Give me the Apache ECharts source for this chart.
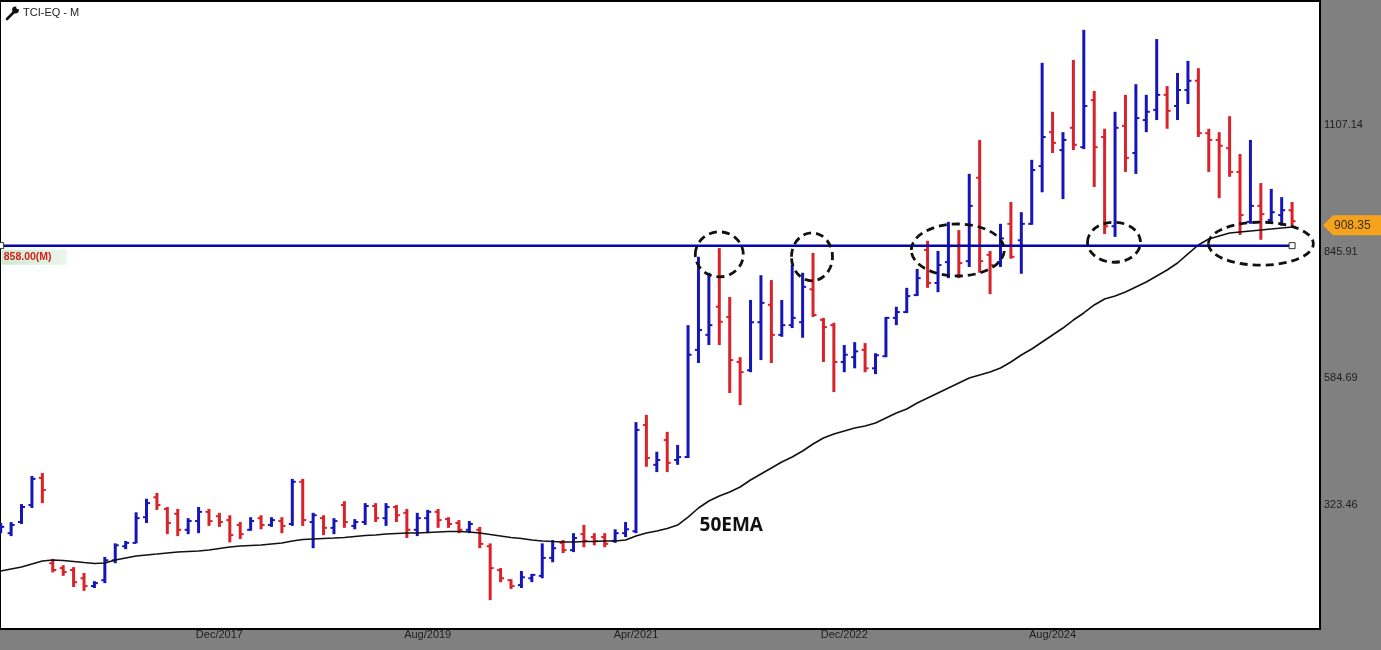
<!DOCTYPE html>
<html><head><meta charset="utf-8">
<script src="https://cdn.jsdelivr.net/npm/echarts@6/dist/echarts.min.js"></script>
<style>html,body{margin:0;padding:0;background:#808080;}#c{width:1381px;height:650px;}</style>
</head><body><div id="c"></div>
<script>
// Monthly OHLC of TCI-EQ, first bar Mar/2016
const MON = ['Jan','Feb','Mar','Apr','May','Jun','Jul','Aug','Sep','Oct','Nov','Dec'];
const months = [];
for (let k = 0; k < 125; k++) { const m = 2 + k; months.push(MON[m % 12] + '/' + (2016 + Math.floor(m / 12))); }

const openP = [270,265,288,323,379,203,193,189,172,156,168,209,238,245,298,339,315,305,272,290,
309,300,292,282,272,296,282,290,284,371,288,296,276,323,280,288,321,296,319,307,
272,296,309,294,286,272,272,238,189,168,158,172,177,214,245,230,263,257,257,249,
265,269,488,406,457,416,422,643,674,732,711,618,601,700,736,674,694,700,768,705,
694,618,628,643,605,630,709,721,756,849,781,824,857,826,998,839,824,903,869,903,
1022,1092,1055,1101,1061,1158,1082,898,1105,1049,1117,1138,1169,1146,1179,1198,1090,1076,1059,1010,
907,940,911,921,931];
const highP = [286,288,325,383,389,212,199,195,183,166,216,244,249,308,336,348,319,315,296,319,
315,307,302,288,298,302,298,298,377,377,307,302,296,331,294,327,327,327,323,315,
307,313,315,298,292,290,278,244,193,170,187,181,244,251,251,265,282,265,265,273,
288,494,509,433,474,447,694,835,802,853,752,628,746,797,787,746,818,802,843,709,
699,653,659,657,636,711,732,771,810,868,847,907,890,1006,1076,847,903,948,927,1035,
1235,1134,1092,1241,1303,1177,1099,1134,1169,1191,1169,1284,1187,1214,1239,1224,1099,1092,1125,1047,
1076,987,975,958,948];
const lowP = [265,259,284,317,327,184,177,154,146,152,162,203,232,244,286,313,263,259,263,265,
280,278,246,253,270,273,278,265,280,280,234,261,263,276,273,282,288,280,288,255,
259,265,276,276,265,265,234,127,164,150,152,164,172,205,224,226,236,240,236,245,
257,265,402,391,391,406,420,616,653,653,554,529,597,622,616,670,688,668,711,618,
556,597,605,597,593,628,694,719,754,771,762,791,791,814,802,758,814,831,800,901,
968,1049,954,1055,1057,979,882,876,1010,1006,1092,1117,1099,1117,1150,1082,1010,956,1000,880,
903,870,903,899,899];
const closeP = [278,282,319,377,354,189,185,164,156,162,209,240,245,296,327,323,286,272,290,309,
290,288,261,263,290,282,292,280,371,292,302,276,290,288,288,321,296,319,302,272,
296,309,292,284,272,284,243,193,172,156,174,179,214,234,230,255,249,249,243,265,
273,478,420,416,410,422,633,684,694,701,622,597,700,740,674,694,709,773,715,690,
618,633,640,605,632,709,721,754,791,781,818,857,822,940,826,818,873,835,903,1014,
1082,1070,1076,1066,1146,1061,898,1101,1039,1121,1134,1169,1136,1179,1198,1090,1076,1064,1010,921,
940,923,927,931,908.35];
const ema50 = [187.0,191.1,195.2,201.4,207.6,209.7,208.6,206.6,204.5,202.5,203.5,209.7,213.8,217.9,220.0,222.0,224.1,226.2,227.2,228.2,
230.3,233.4,236.5,238.5,239.6,240.6,242.7,244.7,248.9,252.0,253.0,254.0,255.0,256.1,258.1,260.2,261.2,263.3,264.3,265.3,
265.3,266.4,267.4,268.4,268.4,267.4,265.3,262.2,259.2,256.1,254.0,250.9,248.9,247.8,246.8,246.8,247.8,247.8,248.9,248.9,
250.9,259.2,265.3,269.5,274.6,281.8,298.3,316.9,331.3,341.6,350.0,360.3,374.7,387.1,399.5,411.8,422.1,434.5,448.9,461.3,
469.5,475.7,481.9,486.0,492.2,502.5,512.8,521.1,533.5,543.8,554.1,564.4,574.7,585.0,591.2,597.4,605.6,618.0,632.5,644.8,
659.3,673.7,688.1,704.6,719.1,735.6,748.0,754.2,762.4,772.7,783.0,795.4,807.8,822.2,840.8,859.3,871.7,877.9,884.0,886.1,
888.2,890.2,892.3,894.4,896.4];
const levelValue = 858.00;
const lastPrice = 908.35;
const xTickIndex = [21, 41, 61, 81, 101];
const yTickValues = [323.46, 584.69, 845.91, 1107.14];
// dashed ellipse annotations: centre in (bar index, price)
const ellipses = [
  {i: 69.0, v: 840, rx: 24, ry: 22.5},
  {i: 77.9, v: 835, rx: 20.5, ry: 24},
  {i: 91.9, v: 849, rx: 46.5, ry: 26},
  {i: 106.9, v: 865, rx: 26.5, ry: 20},
  {i: 121.0, v: 862, rx: 52.5, ry: 21.5}
];
const emaLabel = {i: 70.15, v: 280, text: '50EMA'};

const BLUE = '#1616b8', RED = '#d8232a';
const ohlc = openP.map((o, k) => [k, o, highP[k], lowP[k], closeP[k]]);
const emaData = ema50.map((v, k) => [k, v]);

const chart = echarts.init(document.getElementById('c'));
chart.setOption({
  animation: false,
  backgroundColor: '#808080',
  grid: {left: 0, right: 61, top: 1, bottom: 21, show: true, backgroundColor: '#ffffff', borderColor: '#000', borderWidth: 2},
  xAxis: {
    type: 'value', min: -0.067, max: 126.68,
    splitLine: {show: false}, axisLine: {show: false}, axisTick: {show: false},
    axisLabel: {customValues: xTickIndex, formatter: v => months[Math.round(v)], color: '#1e1e1e', fontSize: 11, fontFamily: 'Liberation Sans', margin: 0}
  },
  yAxis: {
    type: 'value', position: 'right', min: 67.4, max: 1362.5,
    splitLine: {show: false}, axisLine: {show: false}, axisTick: {show: false},
    axisLabel: {customValues: yTickValues, formatter: v => v.toFixed(2), color: '#1e1e1e', fontSize: 11, fontFamily: 'Liberation Sans', margin: 4, padding: [4, 0, 0, 0]}
  },
  series: [
    {
      type: 'custom', name: 'OHLC', data: ohlc, encode: {x: 0, y: [1, 2, 3, 4]}, z: 2,
      renderItem: (params, api) => {
        const i = api.value(0), o = api.value(1), h = api.value(2), l = api.value(3), c = api.value(4);
        const pH = api.coord([i, h]), pL = api.coord([i, l]), pO = api.coord([i, o]), pC = api.coord([i, c]);
        const col = c >= o ? BLUE : RED;
        return {type: 'group', children: [
          {type: 'line', shape: {x1: pH[0], y1: pH[1], x2: pL[0], y2: pL[1]}, style: {stroke: col, lineWidth: 3}},
          {type: 'line', shape: {x1: pO[0] - 3.5, y1: pO[1], x2: pO[0], y2: pO[1]}, style: {stroke: col, lineWidth: 2}},
          {type: 'line', shape: {x1: pC[0], y1: pC[1], x2: pC[0] + 3.5, y2: pC[1]}, style: {stroke: col, lineWidth: 2}}
        ]};
      }
    },
    {
      type: 'line', name: '50EMA', data: emaData, showSymbol: false, z: 3,
      lineStyle: {color: '#111', width: 1.6}
    },
    {
      type: 'line', name: 'level', data: [[0, levelValue], [124, levelValue]], z: 4,
      symbol: 'rect', symbolSize: 6, showSymbol: true,
      itemStyle: {color: '#fff', borderColor: '#333', borderWidth: 1},
      lineStyle: {color: '#0505a8', width: 2.5}
    }
  ]
});

const px = (i, v) => chart.convertToPixel({xAxisIndex: 0, yAxisIndex: 0}, [i, v]);
const g = [];
ellipses.forEach(e => {
  const p = px(e.i, e.v);
  g.push({type: 'ellipse', shape: {cx: p[0], cy: p[1], rx: e.rx, ry: e.ry}, z: 10,
    style: {fill: 'none', stroke: '#111', lineWidth: 2.8, lineDash: [8, 5]}});
});
const pe = px(emaLabel.i, emaLabel.v);
g.push({type: 'text', x: pe[0], y: pe[1], z: 10, style: {text: emaLabel.text, font: 'bold 19px "Open Sans"', fill: '#111', align: 'center', verticalAlign: 'middle'}});
const pl = px(0, levelValue);
g.push({type: 'rect', shape: {x: pl[0] + 1, y: pl[1] + 4, width: 65, height: 15}, z: 10,
  style: {fill: new echarts.graphic.LinearGradient(0, 0, 1, 0, [{offset: 0, color: '#cfe9cf'}, {offset: 1, color: '#eaf6ea'}])}});
g.push({type: 'text', x: pl[0] + 3, y: pl[1] + 11.5, z: 11, style: {text: levelValue.toFixed(2) + '(M)', font: 'bold 10.5px "Liberation Sans"', fill: '#d42020', verticalAlign: 'middle'}});
const pp = px(124, lastPrice);
const ty = pp[1] + 4;
g.push({type: 'polygon', z: 10, shape: {points: [[1323, ty], [1333, ty - 10], [1381, ty - 10], [1381, ty + 10], [1333, ty + 10]]}, style: {fill: '#f5a31c'}});
g.push({type: 'text', x: 1334, y: ty, z: 11, style: {text: lastPrice.toFixed(2), font: '12px "Liberation Sans"', fill: '#3b2f10', verticalAlign: 'middle'}});
// title with wrench icon
g.push({type: 'line', z: 10, shape: {x1: 7, y1: 19, x2: 13.5, y2: 12.5}, style: {stroke: '#111', lineWidth: 2.6, lineCap: 'round'}});
g.push({type: 'circle', z: 10, shape: {cx: 15.5, cy: 10, r: 3.4}, style: {fill: '#111'}});
g.push({type: 'circle', z: 11, shape: {cx: 18, cy: 7.5, r: 1.8}, style: {fill: '#fff'}});
g.push({type: 'text', x: 23, y: 12.5, z: 10, style: {text: 'TCI-EQ - M', font: '11px "Liberation Sans"', fill: '#222', verticalAlign: 'middle'}});
chart.setOption({graphic: g});
</script>
</body></html>
